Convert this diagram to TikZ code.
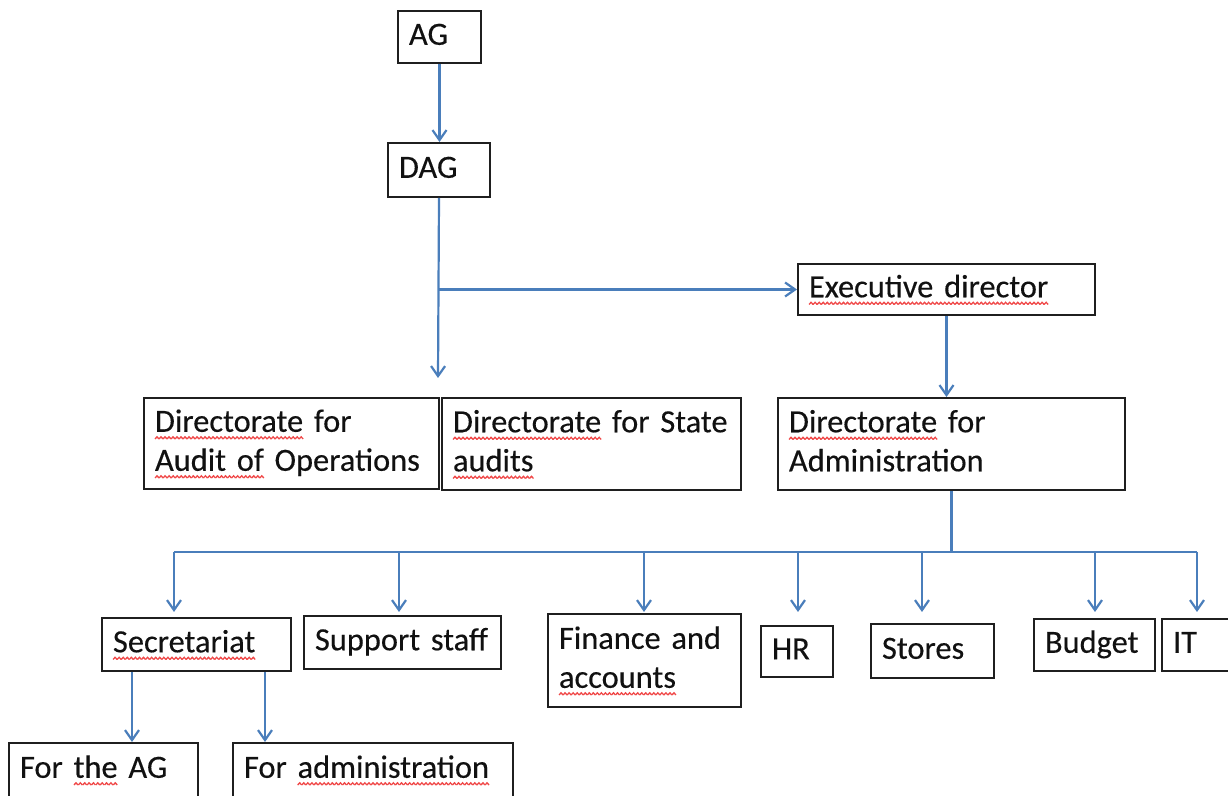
\documentclass[tikz,border=0pt]{standalone}
\usepackage{fontspec}
\usepackage{xcolor}
\usepackage{tikz}
\usetikzlibrary{arrows.meta}
\newfontfamily\boxfont[FakeBold=0.3]{Carlito}
\definecolor{linkblue}{HTML}{4A7EBB}
\definecolor{boxline}{HTML}{1F1F1F}
\definecolor{boxtext}{HTML}{111111}
\definecolor{squiggle}{HTML}{F04848}

% wavy red underline for the flagged words
\newsavebox{\wavebox}
\newcommand{\spell}[1]{\leavevmode\setbox0\hbox{#1}%
  \rlap{\lower3.6pt\hbox to \wd0{\xleaders\copy\wavebox\hfil}}\box0\relax}

\begin{document}
\sbox{\wavebox}{\begin{pgfpicture}
    \pgfpathmoveto{\pgfpoint{0pt}{0pt}}
    \pgfpathlineto{\pgfpoint{1pt}{1.1pt}}
    \pgfpathlineto{\pgfpoint{2pt}{0pt}}
    \pgfsetlinewidth{0.65pt}
    \pgfsetstrokecolor{squiggle}
    \pgfusepath{stroke}
    \pgfresetboundingbox
    \pgfpathrectangle{\pgfpointorigin}{\pgfpoint{2pt}{1pt}}
    \pgfusepath{use as bounding box}
  \end{pgfpicture}}%
\begin{tikzpicture}[
    x=0.5pt, y=-0.5pt,
    box/.style={rectangle, draw=boxline, line width=1pt, anchor=north west,
      align=left, inner xsep=5.5pt, inner ysep=1pt, text=boxtext,
      font=\boxfont\fontsize{16.2}{19.5}\selectfont,
      execute at begin node=\strut, execute at end node=\strut},
    link/.style={draw=linkblue, line width=1.1pt,
      -{Straight Barb[length=5pt, width=7pt, line width=1.1pt]}},
    line/.style={draw=linkblue, line width=1.1pt},
  ]
    \fill[white] (0,0) rectangle (1228,796);
    \useasboundingbox (0,0) rectangle (1228,796);

    % top of the chart
    \node[box, text width=30.5pt, minimum height=26pt] (ag) at (397,10) {AG};
    \node[box, text width=40pt, minimum height=27pt] (dag) at (387,142) {DAG};
    \node[box, text width=137.5pt, minimum height=25.5pt] (exec) at (797,263)
      {\spell{Executive director}};

    % directorates
    \node[box, text width=136.5pt, minimum height=45.5pt] (dirops) at (143,397)
      {\spell{Directorate} for\\\spell{Audit of} Operations};
    \node[box, text width=138.5pt, minimum height=46pt] (dirstate) at (441,397)
      {\spell{Directorate} for State\\\spell{audits}};
    \node[box, text width=162.5pt, minimum height=46pt] (diradmin) at (777,397)
      {\spell{Directorate} for\\Administration};

    % units under administration
    \node[box, text width=83.5pt, minimum height=26.5pt] (secr) at (101,617)
      {\spell{Secretariat}};
    \node[box, text width=87.5pt, minimum height=26.5pt] (support) at (303,615)
      {Support staff};
    \node[box, text width=85.5pt, minimum height=46.5pt] (finance) at (547,613)
      {Finance and\\\spell{accounts}};
    \node[box, text width=25pt, minimum height=25.5pt] (hr) at (760,625) {HR};
    \node[box, text width=50.5pt, minimum height=27pt] (stores) at (870,623)
      {Stores};
    \node[box, text width=49.5pt, minimum height=26pt] (budget) at (1033,618)
      {Budget};
    \node[box, text width=29pt, minimum height=26pt] (it) at (1161,618) {IT};

    % secretariat split
    \node[box, text width=83.5pt, minimum height=27pt] (forag) at (8,742)
      {For \spell{the} AG};
    \node[box, text width=129pt, minimum height=27pt] (foradmin) at (232,742)
      {For \spell{administration}};

    \coordinate (opsend) at (438,378);
    \coordinate (bus) at (0,552);
    \coordinate (drop) at (0,612);

    \draw[link] (ag.south) -- (ag.south |- dag.north);
    \draw[link] (dag.south) -- (opsend);
    \draw[link] (dag.south |- exec.west) -- (exec.west);
    \draw[link] (exec.south) -- (exec.south |- diradmin.north);

    \draw[line] (diradmin.south) -- (diradmin.south |- bus);
    \draw[line] ([xshift=-11.25pt]secr.north |- bus) -- ([xshift=-2.5pt]it.north |- bus);
    \foreach \n/\dx in {secr/-11.25, support/-1.75, finance/-0.25, hr/0.5,
                        stores/-5.25, budget/0.25, it/-2.5}
      \draw[link] ([xshift=\dx pt]\n.north |- bus) -- ([xshift=\dx pt]\n.north |- drop);

    \draw[link] ([xshift=-32.25pt]secr.south) -- ([xshift=-32.25pt]secr.south |- forag.north);
    \draw[link] ([xshift=34.25pt]secr.south) -- ([xshift=34.25pt]secr.south |- foradmin.north);
\end{tikzpicture}
\end{document}
